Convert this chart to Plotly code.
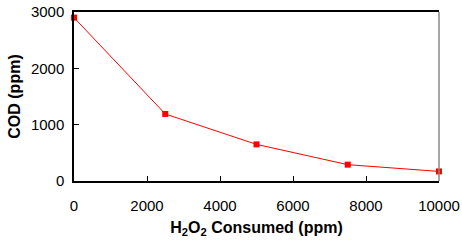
import plotly.graph_objects as go

h2o2 = [0, 2500, 5000, 7500, 10000]
cod = [2900, 1190, 650, 290, 170]
x_ticks = [0, 2000, 4000, 6000, 8000, 10000]
x_labels = ["0", "2000", "4000", "6000", "8000", "10000"]
y_ticks = [0, 1000, 2000, 3000]
y_labels = ["0", "1000", "2000", "3000"]

fig = go.Figure()
fig.add_trace(go.Scatter(
    x=h2o2, y=cod, mode="lines+markers",
    line=dict(color="#ff0000", width=1),
    marker=dict(symbol="square", size=6, color="#ff0000"),
    showlegend=False, cliponaxis=False,
))

font = dict(family="Liberation Sans, Arial, sans-serif", color="#000000")
fig.update_layout(
    width=462, height=243,
    margin=dict(l=74, r=23, t=12, b=62, autoexpand=False),
    paper_bgcolor="white", plot_bgcolor="white",
    font=dict(**font, size=15),
    xaxis=dict(
        range=[0, 10000], tickvals=x_ticks, ticktext=x_labels,
        ticks="inside", ticklen=5, tickcolor="black", tickwidth=1,
        ticklabelstandoff=10, automargin=False,
        showline=True, linecolor="black", linewidth=1.5, mirror=True,
        showgrid=False, zeroline=False,
        title=dict(text="<b>H<sub>2</sub>O<sub>2</sub> Consumed (ppm)</b>", standoff=9,
                   font=dict(size=16)),
        tickfont=dict(size=15),
    ),
    yaxis=dict(
        range=[0, 3000], tickvals=y_ticks, ticktext=y_labels,
        ticks="inside", ticklen=5, tickcolor="black", tickwidth=1,
        ticklabelstandoff=5, automargin=False,
        showline=True, linecolor="black", linewidth=1.5,
        showgrid=False, zeroline=False,
        title=dict(text="<b>COD (ppm)</b>", standoff=6, font=dict(size=16)),
        tickfont=dict(size=15),
    ),
    shapes=[dict(type="line", xref="paper", yref="paper", x0=1, x1=1, y0=0, y1=1,
                 line=dict(color="#888888", width=1.5))],
)

fig.write_html("out.html", config={"displayModeBar": False},
               post_script="document.body.style.margin='0';document.body.style.overflow='hidden';")
